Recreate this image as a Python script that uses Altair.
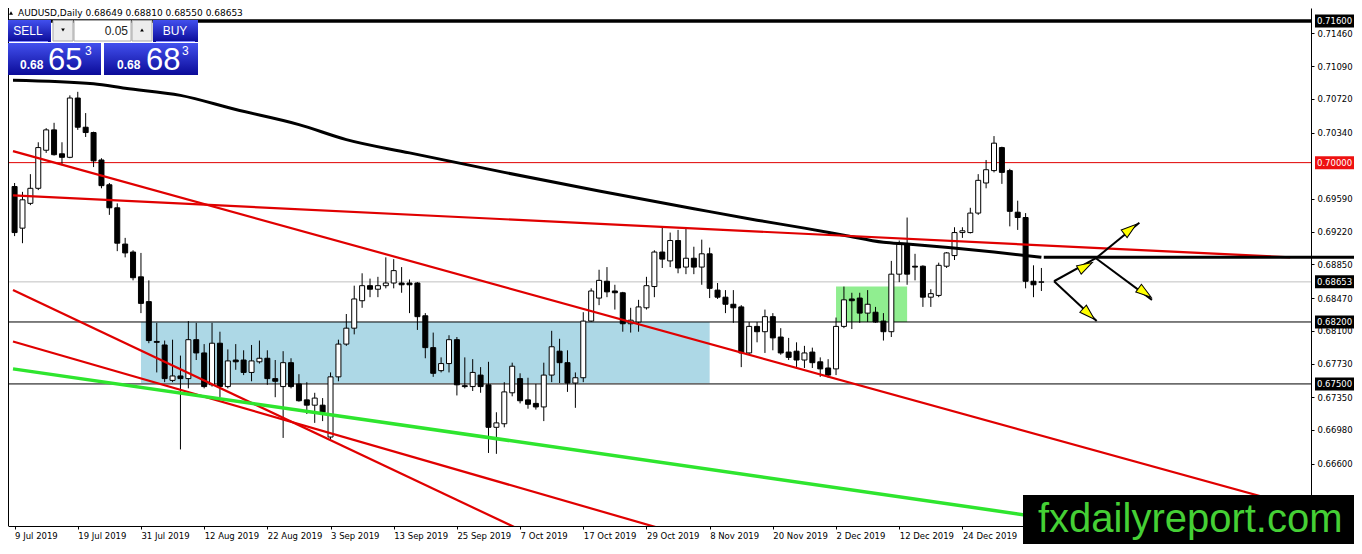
import altair as alt
import pandas as pd

# ---------------- data ----------------
date_idx = [0, 8, 16, 24, 32, 40, 48, 56, 64, 72, 80, 88, 96, 104, 112, 120]
date_lbl = ["9 Jul 2019", "19 Jul 2019", "31 Jul 2019", "12 Aug 2019", "22 Aug 2019",
            "3 Sep 2019", "13 Sep 2019", "25 Sep 2019", "7 Oct 2019", "17 Oct 2019",
            "29 Oct 2019", "8 Nov 2019", "20 Nov 2019", "2 Dec 2019", "12 Dec 2019",
            "24 Dec 2019"]

bar_idx = list(range(131))
opens = [0.6973, 0.6926, 0.6954, 0.6971, 0.7014, 0.7037, 0.7010, 0.7006, 0.7073, 0.7040,
         0.7034, 0.7003, 0.6975, 0.6949, 0.6908, 0.6899, 0.6871, 0.6843, 0.6798, 0.6794,
         0.6754, 0.6759, 0.6756, 0.6800, 0.6785, 0.6749, 0.6796, 0.6747, 0.6777, 0.6777,
         0.6763, 0.6775, 0.6779, 0.6756, 0.6747, 0.6774, 0.6750, 0.6732, 0.6726, 0.6726,
         0.6690, 0.6758, 0.6795, 0.6813, 0.6844, 0.6861, 0.6857, 0.6861, 0.6864, 0.6864,
         0.6864, 0.6864, 0.6827, 0.6791, 0.6765, 0.6773, 0.6800, 0.6748, 0.6747, 0.6760,
         0.6749, 0.6701, 0.6705, 0.6740, 0.6756, 0.6732, 0.6728, 0.6724, 0.6760, 0.6787,
         0.6774, 0.6751, 0.6757, 0.6821, 0.6847, 0.6866, 0.6855, 0.6853, 0.6818, 0.6820,
         0.6836, 0.6860, 0.6899, 0.6889, 0.6912, 0.6882, 0.6892, 0.6882, 0.6897, 0.6856,
         0.6848, 0.6840, 0.6837, 0.6785, 0.6815, 0.6809, 0.6826, 0.6803, 0.6786, 0.6787,
         0.6777, 0.6786, 0.6775, 0.6768, 0.6767, 0.6815, 0.6846, 0.6847, 0.6830, 0.6831,
         0.6821, 0.6809, 0.6874, 0.6908, 0.6883, 0.6883, 0.6848, 0.6850, 0.6883, 0.6895,
         0.6921, 0.6921, 0.6943, 0.6977, 0.6991, 0.7017, 0.6991, 0.6944, 0.6938, 0.6866,
         0.68649]
highs = [0.6977, 0.6967, 0.6987, 0.7023, 0.7039, 0.7045, 0.7023, 0.7076, 0.7080, 0.7056,
         0.7035, 0.7005, 0.6977, 0.6954, 0.6915, 0.6901, 0.6898, 0.6867, 0.6819, 0.6799,
         0.6800, 0.6782, 0.6821, 0.6819, 0.6795, 0.6819, 0.6809, 0.6789, 0.6795, 0.6788,
         0.6794, 0.6799, 0.6788, 0.6777, 0.6787, 0.6779, 0.6761, 0.6752, 0.6740, 0.6734,
         0.6763, 0.6800, 0.6829, 0.6861, 0.6875, 0.6869, 0.6871, 0.6893, 0.6891, 0.6882,
         0.6868, 0.6865, 0.6830, 0.6808, 0.6780, 0.6805, 0.6803, 0.6780, 0.6778, 0.6769,
         0.6775, 0.6718, 0.6752, 0.6774, 0.6762, 0.6757, 0.6750, 0.6774, 0.6810, 0.6801,
         0.6788, 0.6763, 0.6831, 0.6858, 0.6879, 0.6882, 0.6862, 0.6854, 0.6836, 0.6845,
         0.6871, 0.6901, 0.6927, 0.6921, 0.6924, 0.6926, 0.6905, 0.6913, 0.6904, 0.6864,
         0.6856, 0.6856, 0.6839, 0.6820, 0.6820, 0.6834, 0.6830, 0.6813, 0.6802, 0.6797,
         0.6793, 0.6791, 0.6780, 0.6778, 0.6825, 0.6860, 0.6853, 0.6853, 0.6856, 0.6837,
         0.6830, 0.6889, 0.6912, 0.6938, 0.6897, 0.6884, 0.6857, 0.6887, 0.6899, 0.6927,
         0.6927, 0.6949, 0.6987, 0.7003, 0.7030, 0.7018, 0.6993, 0.6957, 0.6943, 0.6884,
         0.68810]
lows = [0.6917, 0.6909, 0.6952, 0.6969, 0.7011, 0.7008, 0.6997, 0.7005, 0.7037, 0.7029,
        0.6995, 0.6971, 0.6941, 0.6900, 0.6893, 0.6867, 0.6830, 0.6796, 0.6763, 0.6752,
        0.6752, 0.6676, 0.6745, 0.6777, 0.6745, 0.6747, 0.6735, 0.6745, 0.6766, 0.6760,
        0.6753, 0.6773, 0.6749, 0.6735, 0.6689, 0.6745, 0.6730, 0.6716, 0.6706, 0.6708,
        0.6687, 0.6753, 0.6793, 0.6806, 0.6836, 0.6848, 0.6848, 0.6858, 0.6858, 0.6853,
        0.6830, 0.6811, 0.6779, 0.6758, 0.6763, 0.6763, 0.6737, 0.6745, 0.6742, 0.6740,
        0.6672, 0.6671, 0.6701, 0.6736, 0.6728, 0.6722, 0.6721, 0.6708, 0.6752, 0.6751,
        0.6741, 0.6723, 0.6752, 0.6820, 0.6839, 0.6848, 0.6834, 0.6809, 0.6808, 0.6809,
        0.6834, 0.6848, 0.6881, 0.6882, 0.6875, 0.6874, 0.6874, 0.6862, 0.6847, 0.6846,
        0.6830, 0.6819, 0.6769, 0.6783, 0.6797, 0.6785, 0.6788, 0.6783, 0.6777, 0.6768,
        0.6768, 0.6768, 0.6758, 0.6757, 0.6760, 0.6813, 0.6812, 0.6819, 0.6820, 0.6819,
        0.6799, 0.6803, 0.6865, 0.6862, 0.6867, 0.6837, 0.6837, 0.6848, 0.6881, 0.6890,
        0.6915, 0.6920, 0.6941, 0.6971, 0.6989, 0.6976, 0.6928, 0.6924, 0.6858, 0.6848,
        0.68550]
closes = [0.6921, 0.6958, 0.6971, 0.7017, 0.7037, 0.7009, 0.7006, 0.7073, 0.7040, 0.7034,
          0.7002, 0.6974, 0.6949, 0.6909, 0.6898, 0.6870, 0.6841, 0.6799, 0.6797, 0.6756,
          0.6759, 0.6756, 0.6800, 0.6785, 0.6747, 0.6796, 0.6747, 0.6776, 0.6775, 0.6763,
          0.6776, 0.6779, 0.6756, 0.6753, 0.6774, 0.6747, 0.6731, 0.6726, 0.6734, 0.6718,
          0.6758, 0.6795, 0.6813, 0.6846, 0.6861, 0.6857, 0.6861, 0.6864, 0.6878, 0.6862,
          0.6862, 0.6826, 0.6791, 0.6762, 0.6773, 0.6800, 0.6749, 0.6747, 0.6763, 0.6747,
          0.6701, 0.6706, 0.6741, 0.6770, 0.6731, 0.6727, 0.6724, 0.6760, 0.6792, 0.6774,
          0.6751, 0.6757, 0.6821, 0.6855, 0.6867, 0.6854, 0.6853, 0.6818, 0.6822, 0.6837,
          0.6861, 0.6899, 0.6891, 0.6912, 0.6881, 0.6892, 0.6882, 0.6897, 0.6858, 0.6848,
          0.6840, 0.6836, 0.6785, 0.6815, 0.6809, 0.6826, 0.6802, 0.6785, 0.6780, 0.6777,
          0.6785, 0.6774, 0.6767, 0.6760, 0.6815, 0.6845, 0.6844, 0.6830, 0.6840, 0.6820,
          0.6809, 0.6874, 0.6908, 0.6874, 0.6882, 0.6848, 0.6852, 0.6884, 0.6898, 0.6921,
          0.6923, 0.6943, 0.6980, 0.6992, 0.7022, 0.6989, 0.6945, 0.6938, 0.6866, 0.6862,
          0.68653]

# moving average
ma_idx = [-0.2, 10, 14, 21, 28, 36, 42, 50, 62, 74, 86, 94, 100, 105, 110, 113, 124, 130]
ma_val = [0.7093, 0.7089, 0.7084, 0.7076, 0.7060, 0.7043, 0.7026, 0.7011, 0.6989, 0.6968,
          0.6948, 0.6935, 0.6926, 0.6918, 0.6910, 0.6908, 0.6899, 0.6893]

# horizontal levels
level_top = [0.716]
level_round = [0.700]
level_bid = [0.68653]
level_support = [0.682, 0.675]
ext_level = [0.6893]
ext_start = [130.3]

# right axis tick labels (those hidden by the label boxes / logo are left out)
price_ticks = [0.7146, 0.7109, 0.7072, 0.7034, 0.6959, 0.6922, 0.6885,
               0.6847, 0.6810, 0.6773, 0.6735, 0.6698, 0.6660]

# red trend lines (two end points each)
red_name = ["flat", "flat", "desc", "desc", "steep", "steep", "mid", "mid"]
red_idx = [-0.2, 161.5, -0.2, 163.5, -0.2, 65.0, -0.2, 84.0]
red_val = [0.6963, 0.6893, 0.7013, 0.6609, 0.6856, 0.6581, 0.6798, 0.6581]
# green trend line
green_idx = [-0.2, 145.0]
green_val = [0.6767, 0.6580]

# zones
blue_zone = {"i0": [16], "i1": [88], "p0": [0.682], "p1": [0.6751]}
green_zone = {"i0": [104], "i1": [113], "p0": [0.6860], "p1": [0.6820]}

# arrows
arrow_name = ["a", "a", "b", "b", "c", "c", "d", "d"]
arrow_idx = [131.6, 136.9, 136.9, 142.4, 136.9, 144.0, 131.6, 137.0]
arrow_val = [0.6866, 0.6892, 0.6892, 0.6932, 0.6892, 0.6845, 0.6866, 0.6821]
head_idx = [135.6, 141.25, 143.1, 136.0]
head_val = [0.6883, 0.6925, 0.6853, 0.6829]
head_ang = [61, 52, 126, 133]

header_txt = "AUDUSD,Daily  0.68649 0.68810 0.68550 0.68653"

# ---------------- chart ----------------
W, H = 1303, 518
xs = alt.Scale(domain=[-0.2, 163.5], nice=False, zero=False)
ys = alt.Scale(domain=[0.65895, 0.71747], nice=False, zero=False)
FONT = "DejaVu Sans"
RED = "#e00000"

lbl_js = "[" + ",".join("'" + s + "'" for s in date_lbl) + "]"
idx_js = "[" + ",".join(str(v) for v in date_idx) + "]"
x_axis = alt.Axis(values=date_idx, labelExpr=lbl_js + "[indexof(" + idx_js + ", datum.value)]",
                  title=None, grid=False, tickSize=3, tickColor="black", domainColor="black",
                  labelColor="black", labelFont=FONT, labelFontSize=8.5, labelAlign="left",
                  labelPadding=2, labelOverlap=False, labelFlush=False)
y_axis = alt.Axis(values=price_ticks, format=".5f", orient="right", title=None, grid=False,
                  tickSize=3, tickColor="black", domainColor="black", labelColor="black",
                  labelFont=FONT, labelFontSize=8.5, labelPadding=3, labelOverlap=False,
                  labelFlush=False)


def X(f):
    return alt.X(f + ":Q", scale=xs, axis=x_axis)


def Y(f):
    return alt.Y(f + ":Q", scale=ys, axis=y_axis)


cdf = pd.DataFrame({"i": bar_idx, "o": opens, "h": highs, "l": lows, "c": closes})
one = pd.DataFrame({"k": [0]})

layers = []

# zones
layers.append(alt.Chart(pd.DataFrame(blue_zone)).mark_rect(color="#add8e6").encode(
    x=X("i0"), x2="i1:Q", y=Y("p0"), y2="p1:Q"))
layers.append(alt.Chart(pd.DataFrame(green_zone)).mark_rect(color="#90ee90").encode(
    x=X("i0"), x2="i1:Q", y=Y("p0"), y2="p1:Q"))

# horizontal levels
layers.append(alt.Chart(pd.DataFrame({"v": level_bid})).mark_rule(color="#c0c0c0", strokeWidth=1).encode(y=Y("v")))
layers.append(alt.Chart(pd.DataFrame({"v": level_support})).mark_rule(color="black", strokeWidth=1).encode(y=Y("v")))
layers.append(alt.Chart(pd.DataFrame({"v": level_round})).mark_rule(color=RED, strokeWidth=1).encode(y=Y("v")))
layers.append(alt.Chart(pd.DataFrame({"v": level_top})).mark_rule(color="black", strokeWidth=3.5).encode(y=Y("v")))

# candles
layers.append(alt.Chart(cdf).mark_rule(color="black", strokeWidth=1).encode(
    x=X("i"), y=Y("l"), y2="h:Q"))
layers.append(alt.Chart(cdf).mark_bar(size=5, stroke="black", strokeWidth=1).encode(
    x=X("i"), y=Y("o"), y2="c:Q",
    fill=alt.when("datum.c >= datum.o").then(alt.value("white")).otherwise(alt.value("black"))))

# moving average
layers.append(alt.Chart(pd.DataFrame({"i": ma_idx, "p": ma_val})).mark_line(
    color="black", strokeWidth=3, interpolate="monotone").encode(x=X("i"), y=Y("p")))

# trend lines
layers.append(alt.Chart(pd.DataFrame({"n": red_name, "i": red_idx, "p": red_val})).mark_line(
    color=RED, strokeWidth=2.2, clip=True).encode(x=X("i"), y=Y("p"), detail="n:N"))
layers.append(alt.Chart(pd.DataFrame({"i": green_idx, "p": green_val})).mark_line(
    color="#2ee52e", strokeWidth=3.5, clip=True).encode(x=X("i"), y=Y("p")))

# extended horizontal black line
layers.append(alt.Chart(pd.DataFrame({"i": ext_start, "v": ext_level})).mark_rule(
    color="black", strokeWidth=3).encode(x=X("i"), x2=alt.value(W + 43), y=Y("v")))

# arrows
layers.append(alt.Chart(pd.DataFrame({"n": arrow_name, "i": arrow_idx, "p": arrow_val})).mark_line(
    color="black", strokeWidth=2).encode(x=X("i"), y=Y("p"), detail="n:N"))
layers.append(alt.Chart(pd.DataFrame({"i": head_idx, "p": head_val, "a": head_ang})).mark_point(
    shape="M0,-1L0.62,1L-0.62,1Z", filled=True, fill="#ffff00", stroke="black", strokeWidth=1,
    size=240, opacity=1).encode(x=X("i"), y=Y("p"), angle=alt.Angle("a:Q", scale=None)))

# price label boxes on the right axis
black_boxes = pd.DataFrame({"v": level_top + level_bid + level_support})
red_boxes = pd.DataFrame({"v": level_round})
for bdf, col in ((black_boxes, "black"), (red_boxes, "#ee1111")):
    layers.append(alt.Chart(bdf).mark_rect(color=col, yOffset=-6.5, y2Offset=6.5).encode(
        x=alt.value(W + 4), x2=alt.value(W + 43), y=Y("v"), y2="v:Q"))
    layers.append(alt.Chart(bdf).mark_text(align="left", baseline="middle", color="white",
                                           font=FONT, fontSize=8.5).encode(
        x=alt.value(W + 6), y=Y("v"), text=alt.Text("v:Q", format=".5f")))

# left frame
layers.append(alt.Chart(one).mark_rule(color="black").encode(
    x=alt.value(0.5), y=alt.value(0), y2=alt.value(H)))

# header
layers.append(alt.Chart(one).mark_point(shape="triangle-up", filled=True, color="black", size=16,
                                        opacity=1).encode(x=alt.value(3), y=alt.value(5)))
layers.append(alt.Chart(one).mark_text(text=header_txt, align="left", baseline="middle",
                                       font=FONT, fontSize=9, color="black").encode(
    x=alt.value(10), y=alt.value(5)))

# trade panel
grad = alt.LinearGradient(gradient="linear",
                          stops=[alt.GradientStop(color="#4250ee", offset=0),
                                 alt.GradientStop(color="#0b0b98", offset=1)],
                          x1=0, x2=0, y1=0, y2=1)
for (a, b, c, d) in ((-2, 43, 12, 34), (145, 190, 12, 34), (-2, 93, 35, 67), (96, 190, 35, 67)):
    layers.append(alt.Chart(one).mark_rect(fill=grad).encode(
        x=alt.value(a), x2=alt.value(b), y=alt.value(c), y2=alt.value(d)))
for (a, b) in ((1, 40), (148, 187)):
    layers.append(alt.Chart(one).mark_rule(color="#7f86ff", strokeWidth=1).encode(
        x=alt.value(a), x2=alt.value(b), y=alt.value(33.5)))
for (a, b, col) in ((45, 65, "#ececec"), (66, 123, "white"), (124, 144, "#ececec")):
    layers.append(alt.Chart(one).mark_rect(fill=col, stroke="#a8a8a8", strokeWidth=1).encode(
        x=alt.value(a), x2=alt.value(b), y=alt.value(12.5), y2=alt.value(33)))
layers.append(alt.Chart(one).mark_point(shape="triangle-down", filled=True, color="black", size=14,
                                        opacity=1).encode(x=alt.value(55), y=alt.value(22)))
layers.append(alt.Chart(one).mark_point(shape="triangle-up", filled=True, color="black", size=14,
                                        opacity=1).encode(x=alt.value(134), y=alt.value(22)))
PF = "Liberation Sans"
texts = [
    ("0.05", 120, 23, 12, "right", "middle", "#222222", "normal"),
    ("SELL", 20, 23, 12, "center", "middle", "white", "normal"),
    ("BUY", 167, 23, 12, "center", "middle", "white", "normal"),
    ("0.68", 12, 61, 12, "left", "alphabetic", "white", "bold"),
    ("65", 40, 62, 31, "left", "alphabetic", "white", "normal"),
    ("3", 77, 47, 12, "left", "alphabetic", "white", "normal"),
    ("0.68", 109, 61, 12, "left", "alphabetic", "white", "bold"),
    ("68", 138, 62, 31, "left", "alphabetic", "white", "normal"),
    ("3", 174, 47, 12, "left", "alphabetic", "white", "normal"),
]
for (t, tx, ty, fs, al, bl, col, fw) in texts:
    layers.append(alt.Chart(one).mark_text(text=t, align=al, baseline=bl, font=PF, fontSize=fs,
                                           color=col, fontWeight=fw).encode(
        x=alt.value(tx), y=alt.value(ty)))

# watermark logo
layers.append(alt.Chart(one).mark_rect(fill="black").encode(
    x=alt.value(1015), x2=alt.value(W + 43), y=alt.value(487), y2=alt.value(H + 18)))
layers.append(alt.Chart(one).mark_text(text="fxdailyreport.com", align="left", baseline="alphabetic",
                                       font=PF, fontSize=40, color="#45d035").encode(
    x=alt.value(1030), y=alt.value(524)))

chart = alt.layer(*layers).properties(
    width=W, height=H,
    autosize=alt.AutoSizeParams(type="none"),
    padding={"left": 0, "top": 0, "right": 43, "bottom": 18},
    background="white",
).configure_view(strokeWidth=0)

chart.save("out.html", embed_options={"renderer": "svg", "actions": False})
